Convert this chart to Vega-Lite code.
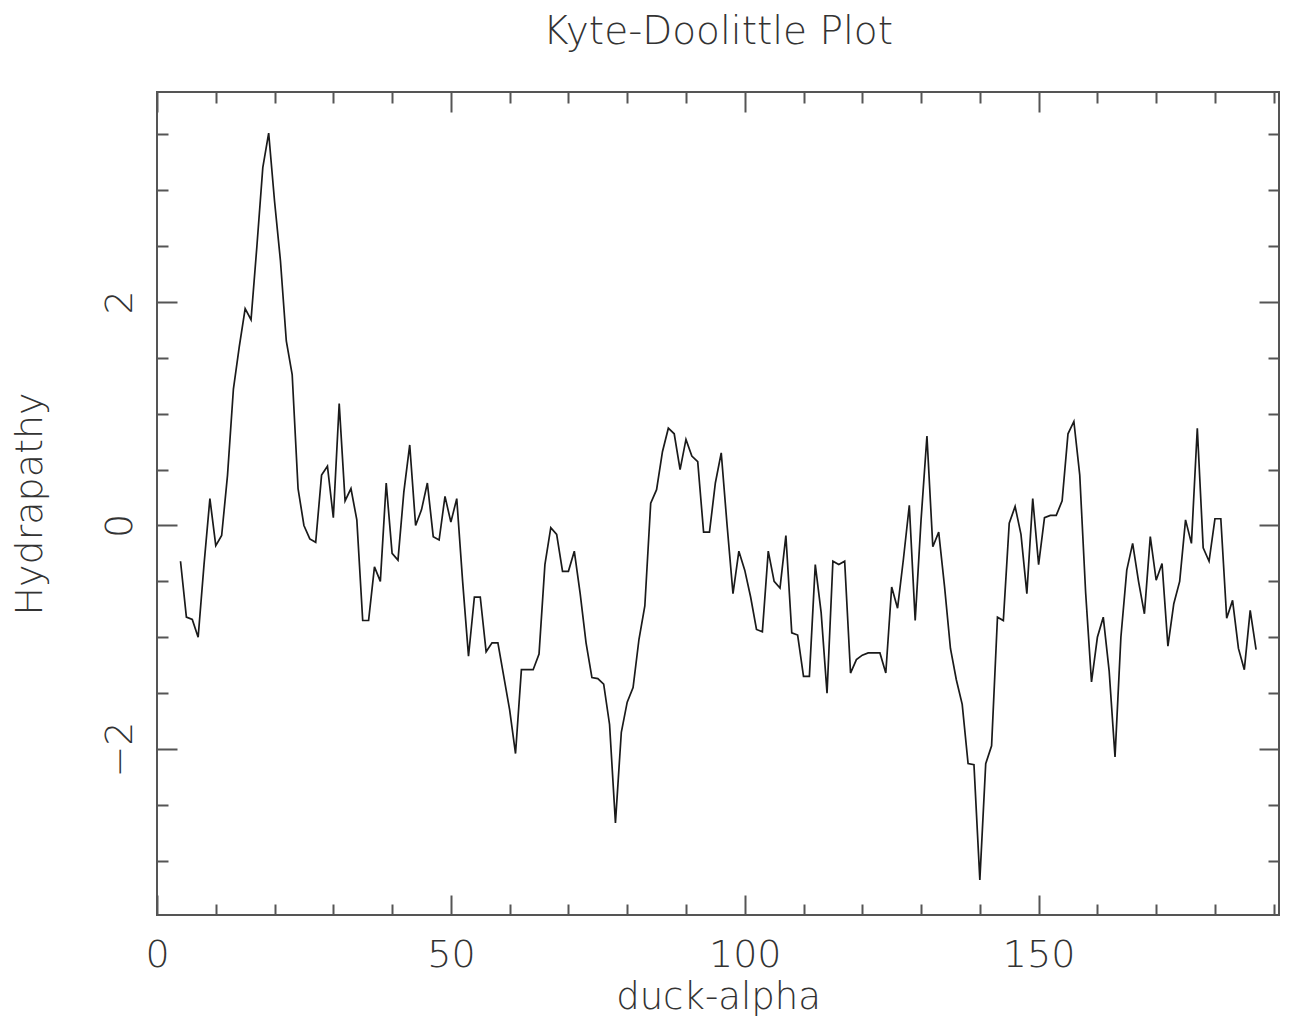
{
  "$schema": "https://vega.github.io/schema/vega-lite/v6.json",
  "autosize": {"type": "none"},
  "padding": {"left": 157, "top": 92, "right": 19, "bottom": 101},
  "width": 1122,
  "height": 823,
  "background": "white",
  "config": {
    "view": {"stroke": "#555", "strokeWidth": 2},
    "axis": {"grid": false, "domain": false, "tickColor": "#555", "tickWidth": 2}
  },
  "title": {
    "text": "Kyte-Doolittle Plot",
    "font": "DejaVu Sans",
    "fontSize": 39,
    "fontWeight": 200,
    "color": "#333",
    "anchor": "middle",
    "baseline": "alphabetic",
    "offset": 8
  },
  "data": {"values": [
    {"residue": 4, "hydropathy": -0.32}, {"residue": 5, "hydropathy": -0.82}, {"residue": 6, "hydropathy": -0.84},
    {"residue": 7, "hydropathy": -1.0}, {"residue": 8, "hydropathy": -0.35}, {"residue": 9, "hydropathy": 0.24},
    {"residue": 10, "hydropathy": -0.18}, {"residue": 11, "hydropathy": -0.09}, {"residue": 12, "hydropathy": 0.45},
    {"residue": 13, "hydropathy": 1.22}, {"residue": 14, "hydropathy": 1.6}, {"residue": 15, "hydropathy": 1.94},
    {"residue": 16, "hydropathy": 1.84}, {"residue": 17, "hydropathy": 2.5}, {"residue": 18, "hydropathy": 3.2},
    {"residue": 19, "hydropathy": 3.51}, {"residue": 20, "hydropathy": 2.9}, {"residue": 21, "hydropathy": 2.37},
    {"residue": 22, "hydropathy": 1.65}, {"residue": 23, "hydropathy": 1.35}, {"residue": 24, "hydropathy": 0.33},
    {"residue": 25, "hydropathy": 0.0}, {"residue": 26, "hydropathy": -0.12}, {"residue": 27, "hydropathy": -0.15},
    {"residue": 28, "hydropathy": 0.45}, {"residue": 29, "hydropathy": 0.53}, {"residue": 30, "hydropathy": 0.07},
    {"residue": 31, "hydropathy": 1.09}, {"residue": 32, "hydropathy": 0.22}, {"residue": 33, "hydropathy": 0.33},
    {"residue": 34, "hydropathy": 0.05}, {"residue": 35, "hydropathy": -0.85}, {"residue": 36, "hydropathy": -0.85},
    {"residue": 37, "hydropathy": -0.37}, {"residue": 38, "hydropathy": -0.5}, {"residue": 39, "hydropathy": 0.38},
    {"residue": 40, "hydropathy": -0.25}, {"residue": 41, "hydropathy": -0.31}, {"residue": 42, "hydropathy": 0.3},
    {"residue": 43, "hydropathy": 0.72}, {"residue": 44, "hydropathy": 0.0}, {"residue": 45, "hydropathy": 0.14},
    {"residue": 46, "hydropathy": 0.38}, {"residue": 47, "hydropathy": -0.1}, {"residue": 48, "hydropathy": -0.13},
    {"residue": 49, "hydropathy": 0.26}, {"residue": 50, "hydropathy": 0.03}, {"residue": 51, "hydropathy": 0.24},
    {"residue": 52, "hydropathy": -0.5}, {"residue": 53, "hydropathy": -1.17}, {"residue": 54, "hydropathy": -0.64},
    {"residue": 55, "hydropathy": -0.64}, {"residue": 56, "hydropathy": -1.13}, {"residue": 57, "hydropathy": -1.05},
    {"residue": 58, "hydropathy": -1.05}, {"residue": 59, "hydropathy": -1.35}, {"residue": 60, "hydropathy": -1.65},
    {"residue": 61, "hydropathy": -2.04}, {"residue": 62, "hydropathy": -1.29}, {"residue": 63, "hydropathy": -1.29},
    {"residue": 64, "hydropathy": -1.29}, {"residue": 65, "hydropathy": -1.15}, {"residue": 66, "hydropathy": -0.35},
    {"residue": 67, "hydropathy": -0.02}, {"residue": 68, "hydropathy": -0.08}, {"residue": 69, "hydropathy": -0.41},
    {"residue": 70, "hydropathy": -0.41}, {"residue": 71, "hydropathy": -0.23}, {"residue": 72, "hydropathy": -0.61},
    {"residue": 73, "hydropathy": -1.05}, {"residue": 74, "hydropathy": -1.36}, {"residue": 75, "hydropathy": -1.37},
    {"residue": 76, "hydropathy": -1.42}, {"residue": 77, "hydropathy": -1.78}, {"residue": 78, "hydropathy": -2.66},
    {"residue": 79, "hydropathy": -1.85}, {"residue": 80, "hydropathy": -1.58}, {"residue": 81, "hydropathy": -1.45},
    {"residue": 82, "hydropathy": -1.02}, {"residue": 83, "hydropathy": -0.72}, {"residue": 84, "hydropathy": 0.2},
    {"residue": 85, "hydropathy": 0.32}, {"residue": 86, "hydropathy": 0.66}, {"residue": 87, "hydropathy": 0.87},
    {"residue": 88, "hydropathy": 0.82}, {"residue": 89, "hydropathy": 0.5}, {"residue": 90, "hydropathy": 0.77},
    {"residue": 91, "hydropathy": 0.62}, {"residue": 92, "hydropathy": 0.57}, {"residue": 93, "hydropathy": -0.06},
    {"residue": 94, "hydropathy": -0.06}, {"residue": 95, "hydropathy": 0.38}, {"residue": 96, "hydropathy": 0.65},
    {"residue": 97, "hydropathy": 0.0}, {"residue": 98, "hydropathy": -0.61}, {"residue": 99, "hydropathy": -0.23},
    {"residue": 100, "hydropathy": -0.4}, {"residue": 101, "hydropathy": -0.64}, {"residue": 102, "hydropathy": -0.93},
    {"residue": 103, "hydropathy": -0.95}, {"residue": 104, "hydropathy": -0.23}, {"residue": 105, "hydropathy": -0.5},
    {"residue": 106, "hydropathy": -0.56}, {"residue": 107, "hydropathy": -0.09}, {"residue": 108, "hydropathy": -0.96},
    {"residue": 109, "hydropathy": -0.98}, {"residue": 110, "hydropathy": -1.35}, {"residue": 111, "hydropathy": -1.35},
    {"residue": 112, "hydropathy": -0.35}, {"residue": 113, "hydropathy": -0.78}, {"residue": 114, "hydropathy": -1.5},
    {"residue": 115, "hydropathy": -0.32}, {"residue": 116, "hydropathy": -0.35}, {"residue": 117, "hydropathy": -0.32},
    {"residue": 118, "hydropathy": -1.32}, {"residue": 119, "hydropathy": -1.2}, {"residue": 120, "hydropathy": -1.16},
    {"residue": 121, "hydropathy": -1.14}, {"residue": 122, "hydropathy": -1.14}, {"residue": 123, "hydropathy": -1.14},
    {"residue": 124, "hydropathy": -1.32}, {"residue": 125, "hydropathy": -0.55}, {"residue": 126, "hydropathy": -0.74},
    {"residue": 127, "hydropathy": -0.3}, {"residue": 128, "hydropathy": 0.18}, {"residue": 129, "hydropathy": -0.85},
    {"residue": 130, "hydropathy": 0.05}, {"residue": 131, "hydropathy": 0.8}, {"residue": 132, "hydropathy": -0.19},
    {"residue": 133, "hydropathy": -0.06}, {"residue": 134, "hydropathy": -0.55}, {"residue": 135, "hydropathy": -1.1},
    {"residue": 136, "hydropathy": -1.38}, {"residue": 137, "hydropathy": -1.6}, {"residue": 138, "hydropathy": -2.13},
    {"residue": 139, "hydropathy": -2.14}, {"residue": 140, "hydropathy": -3.17}, {"residue": 141, "hydropathy": -2.13},
    {"residue": 142, "hydropathy": -1.97}, {"residue": 143, "hydropathy": -0.82}, {"residue": 144, "hydropathy": -0.85},
    {"residue": 145, "hydropathy": 0.02}, {"residue": 146, "hydropathy": 0.17}, {"residue": 147, "hydropathy": -0.08},
    {"residue": 148, "hydropathy": -0.61}, {"residue": 149, "hydropathy": 0.24}, {"residue": 150, "hydropathy": -0.35},
    {"residue": 151, "hydropathy": 0.07}, {"residue": 152, "hydropathy": 0.09}, {"residue": 153, "hydropathy": 0.09},
    {"residue": 154, "hydropathy": 0.22}, {"residue": 155, "hydropathy": 0.82}, {"residue": 156, "hydropathy": 0.93},
    {"residue": 157, "hydropathy": 0.45}, {"residue": 158, "hydropathy": -0.6}, {"residue": 159, "hydropathy": -1.4},
    {"residue": 160, "hydropathy": -1.0}, {"residue": 161, "hydropathy": -0.82}, {"residue": 162, "hydropathy": -1.3},
    {"residue": 163, "hydropathy": -2.07}, {"residue": 164, "hydropathy": -1.0}, {"residue": 165, "hydropathy": -0.4},
    {"residue": 166, "hydropathy": -0.16}, {"residue": 167, "hydropathy": -0.5}, {"residue": 168, "hydropathy": -0.79},
    {"residue": 169, "hydropathy": -0.1}, {"residue": 170, "hydropathy": -0.49}, {"residue": 171, "hydropathy": -0.34},
    {"residue": 172, "hydropathy": -1.08}, {"residue": 173, "hydropathy": -0.7}, {"residue": 174, "hydropathy": -0.5},
    {"residue": 175, "hydropathy": 0.05}, {"residue": 176, "hydropathy": -0.16}, {"residue": 177, "hydropathy": 0.87},
    {"residue": 178, "hydropathy": -0.2}, {"residue": 179, "hydropathy": -0.32}, {"residue": 180, "hydropathy": 0.06},
    {"residue": 181, "hydropathy": 0.06}, {"residue": 182, "hydropathy": -0.83}, {"residue": 183, "hydropathy": -0.67},
    {"residue": 184, "hydropathy": -1.1}, {"residue": 185, "hydropathy": -1.29}, {"residue": 186, "hydropathy": -0.76},
    {"residue": 187, "hydropathy": -1.11}
  ]},
  "resolve": {"axis": {"x": "independent", "y": "independent"}},
  "layer": [
    {
      "mark": {"type": "line", "color": "#1a1a1a", "strokeWidth": 1.7},
      "encoding": {
        "x": {"field": "residue", "type": "quantitative",
          "scale": {"domain": [0, 190.9], "nice": false, "zero": false},
          "axis": {"orient": "bottom", "values": [0, 50, 100, 150], "ticks": false, "domain": false,
            "labelFont": "DejaVu Sans", "labelFontSize": 38, "labelFontWeight": 200, "labelColor": "#333",
            "labelPadding": 51, "labelBaseline": "alphabetic", "labelFlush": false, "labelOverlap": false,
            "title": "duck-alpha", "titleFont": "DejaVu Sans", "titleFontSize": 37, "titleFontWeight": 200,
            "titleColor": "#333", "titlePadding": 5}},
        "y": {"field": "hydropathy", "type": "quantitative",
          "scale": {"domain": [-3.484, 3.877], "nice": false, "zero": false},
          "axis": {"orient": "left", "values": [-2, 0, 2], "ticks": false, "domain": false,
            "labelAngle": -90, "labelAlign": "center", "labelBaseline": "alphabetic", "labelPadding": 26,
            "labelFont": "DejaVu Sans", "labelFontSize": 38, "labelFontWeight": 200, "labelColor": "#333",
            "labelFlush": false, "labelOverlap": false,
            "title": "Hydrapathy", "titleFont": "DejaVu Sans", "titleFontSize": 38, "titleFontWeight": 200,
            "titleColor": "#333", "titlePadding": 52}}
      }
    },
    {
      "mark": {"type": "line", "opacity": 0},
      "encoding": {
        "x": {"field": "residue", "type": "quantitative",
          "scale": {"domain": [0, 190.9], "nice": false, "zero": false},
          "axis": {"orient": "bottom", "values": [0, 50, 100, 150], "labels": false, "domain": false, "tickSize": -20, "title": null}},
        "y": {"field": "hydropathy", "type": "quantitative",
          "scale": {"domain": [-3.484, 3.877], "nice": false, "zero": false},
          "axis": {"orient": "left", "values": [-2, 0, 2], "labels": false, "domain": false, "tickSize": -20, "title": null}}
      }
    },
    {
      "mark": {"type": "line", "opacity": 0},
      "encoding": {
        "x": {"field": "residue", "type": "quantitative",
          "scale": {"domain": [0, 190.9], "nice": false, "zero": false},
          "axis": {"orient": "bottom", "values": [10, 20, 30, 40, 60, 70, 80, 90, 110, 120, 130, 140, 160, 170, 180, 190], "labels": false, "domain": false, "tickSize": -11, "title": null}},
        "y": {"field": "hydropathy", "type": "quantitative",
          "scale": {"domain": [-3.484, 3.877], "nice": false, "zero": false},
          "axis": {"orient": "left", "values": [-3, -2.5, -1.5, -1, -0.5, 0.5, 1, 1.5, 2.5, 3, 3.5], "labels": false, "domain": false, "tickSize": -11, "title": null}}
      }
    },
    {
      "mark": {"type": "line", "opacity": 0},
      "encoding": {
        "x": {"field": "residue", "type": "quantitative",
          "scale": {"domain": [0, 190.9], "nice": false, "zero": false},
          "axis": {"orient": "top", "values": [0, 50, 100, 150], "labels": false, "domain": false, "tickSize": -20, "title": null}},
        "y": {"field": "hydropathy", "type": "quantitative",
          "scale": {"domain": [-3.484, 3.877], "nice": false, "zero": false},
          "axis": {"orient": "right", "values": [-2, 0, 2], "labels": false, "domain": false, "tickSize": -20, "title": null}}
      }
    },
    {
      "mark": {"type": "line", "opacity": 0},
      "encoding": {
        "x": {"field": "residue", "type": "quantitative",
          "scale": {"domain": [0, 190.9], "nice": false, "zero": false},
          "axis": {"orient": "top", "values": [10, 20, 30, 40, 60, 70, 80, 90, 110, 120, 130, 140, 160, 170, 180, 190], "labels": false, "domain": false, "tickSize": -11, "title": null}},
        "y": {"field": "hydropathy", "type": "quantitative",
          "scale": {"domain": [-3.484, 3.877], "nice": false, "zero": false},
          "axis": {"orient": "right", "values": [-3, -2.5, -1.5, -1, -0.5, 0.5, 1, 1.5, 2.5, 3, 3.5], "labels": false, "domain": false, "tickSize": -11, "title": null}}
      }
    }
  ]
}
